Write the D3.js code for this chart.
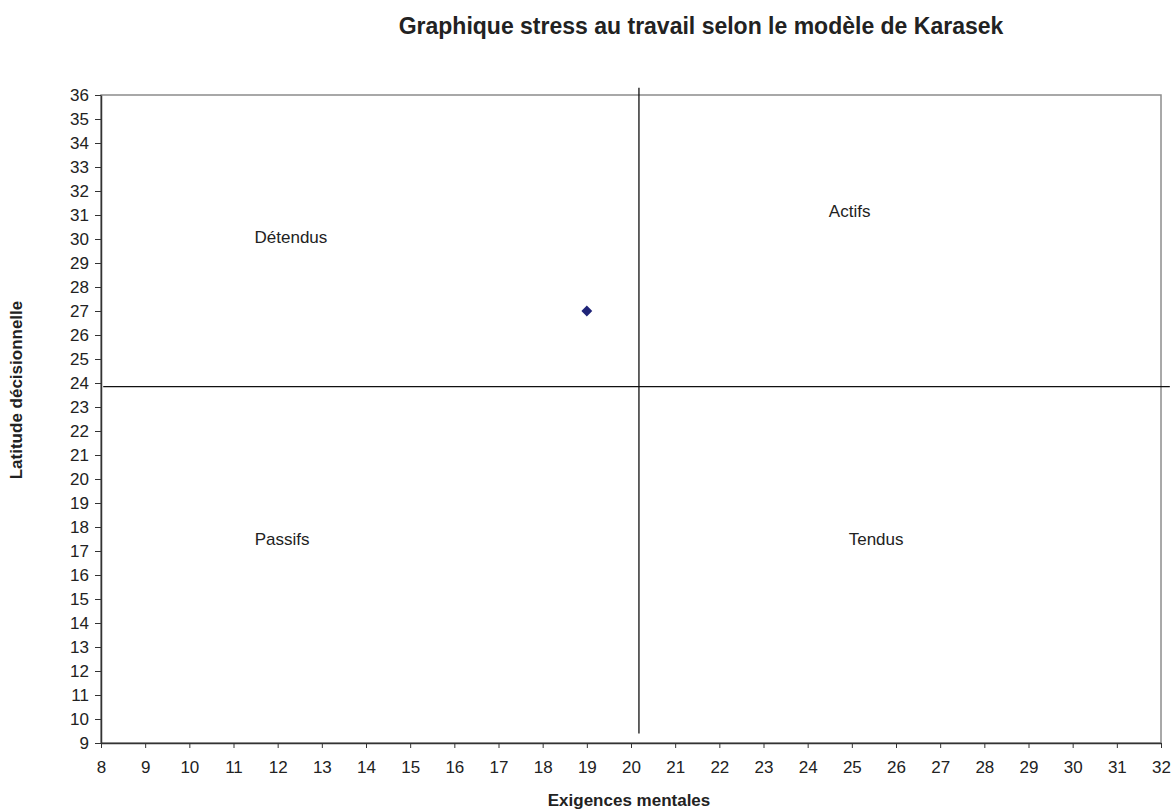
<!DOCTYPE html>
<html>
<head>
<meta charset="utf-8">
<script src="https://cdn.jsdelivr.net/npm/d3@7"></script>
<style>
  body { margin: 0; background: #fff; }
  svg { font-family: "Liberation Sans", Arial, sans-serif; }
</style>
</head>
<body>
<svg id="chart"></svg>
<script>
// data
var points = [{ x: 19, y: 27 }];
var vLine = [{ x: 20.18, y: 36.3 }, { x: 20.18, y: 9.4 }];
var hLine = [{ x: 8.05, y: 23.85 }, { x: 32.2, y: 23.85 }];
var quadrants = [
  { label: "Détendus", x: 12.3, y: 30.1 },
  { label: "Actifs", x: 24.95, y: 31.15 },
  { label: "Passifs", x: 12.1, y: 17.5 },
  { label: "Tendus", x: 25.55, y: 17.5 }
];
var xTicks = d3.range(8, 33);
var yTicks = d3.range(9, 37);

var margin = {top: 95, right: 14, bottom: 67, left: 101},
    width = 1175 - margin.left - margin.right,
    height = 810 - margin.top - margin.bottom;

var svg = d3.select("#chart")
  .attr("width", 1175)
  .attr("height", 810);

var g = svg.append("g")
  .attr("transform", "translate(" + margin.left + "," + margin.top + ")");

var x = d3.scaleLinear().domain([8, 32]).range([0, width]);
var y = d3.scaleLinear().domain([9, 36]).range([height, 0]);

// plot border
g.append("rect")
  .attr("width", width)
  .attr("height", height)
  .attr("fill", "none")
  .attr("stroke", "#8c8c8c")
  .attr("stroke-width", 1.5);

var xAxis = g.append("g")
  .attr("transform", "translate(0," + height + ")")
  .call(d3.axisBottom(x).tickValues(xTicks).tickSize(5).tickSizeOuter(0).tickPadding(13).tickFormat(d3.format("d")));

var yAxis = g.append("g")
  .call(d3.axisLeft(y).tickValues(yTicks).tickSize(6).tickSizeOuter(0).tickPadding(6).tickFormat(d3.format("d")));

[xAxis, yAxis].forEach(function (a) {
  a.select(".domain").attr("stroke", "#333").attr("stroke-width", 1.5);
  a.selectAll(".tick line").attr("stroke", "#333");
  a.selectAll(".tick text").style("font-size", "17px").style("fill", "#222");
});

// quadrant lines
var line = d3.line().x(function (d) { return x(d.x); }).y(function (d) { return y(d.y); });
g.append("path").datum(vLine).attr("d", line).attr("stroke", "#111").attr("stroke-width", 1.3).attr("fill", "none");
g.append("path").datum(hLine).attr("d", line).attr("stroke", "#111").attr("stroke-width", 1.3).attr("fill", "none");

// point
g.selectAll(".pt")
  .data(points)
  .enter()
  .append("path")
    .attr("class", "pt")
    .attr("d", d3.symbol().type(d3.symbolDiamond2).size(75))
    .attr("transform", function (d) { return "translate(" + x(d.x) + "," + y(d.y) + ")"; })
    .attr("fill", "#1f2478");

// quadrant labels
g.selectAll(".ql")
  .data(quadrants)
  .enter()
  .append("text")
    .attr("x", function (d) { return x(d.x); })
    .attr("y", function (d) { return y(d.y); })
    .attr("dy", "0.35em")
    .attr("text-anchor", "middle")
    .style("font-size", "17px")
    .style("fill", "#222")
    .text(function (d) { return d.label; });

// titles
svg.append("text")
  .attr("x", 701)
  .attr("y", 34)
  .attr("text-anchor", "middle")
  .style("font-size", "23px")
  .style("font-weight", "bold")
  .style("fill", "#222")
  .text("Graphique stress au travail selon le modèle de Karasek");

svg.append("text")
  .attr("x", 629)
  .attr("y", 806)
  .attr("text-anchor", "middle")
  .style("font-size", "17px")
  .style("font-weight", "bold")
  .style("fill", "#222")
  .text("Exigences mentales");

svg.append("text")
  .attr("transform", "translate(22,390) rotate(-90)")
  .attr("text-anchor", "middle")
  .style("font-size", "17px")
  .style("font-weight", "bold")
  .style("fill", "#222")
  .text("Latitude décisionnelle");
</script>
</body>
</html>
